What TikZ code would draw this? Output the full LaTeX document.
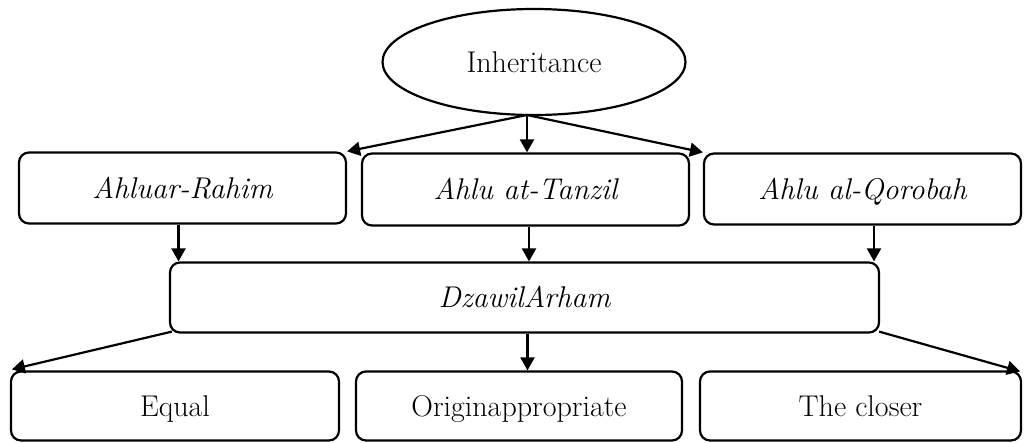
\documentclass[tikz,border=0pt]{standalone}
\usetikzlibrary{shapes.geometric,arrows.meta,calc}
\begin{document}
\begin{tikzpicture}[x=1pt,y=-1pt,
  line width=2.2pt,
  txt/.style={font=\fontsize{30}{36}\selectfont, text height=20pt, text depth=0pt},
  itxt/.style={font=\fontsize{30}{36}\selectfont\itshape, text height=20pt, text depth=0pt},
  rbox/.style={draw, rounded corners=10pt, inner sep=0pt, anchor=center},
  conn/.style={-{Triangle[length=13pt,width=14pt]}}
]
\useasboundingbox (0,0) rectangle (1027,442);

% root ellipse
\node[draw, ellipse, txt, minimum width=303, minimum height=106, inner sep=0pt] (root) at (534,62) {Inheritance};
\coordinate (fork) at (527,115);

% first level
\node[rbox, itxt, minimum width=327, minimum height=71] (l1a) at (182.5,188) {Ahluar-Rahim};
\node[rbox, itxt, minimum width=327, minimum height=72] (l1b) at (525.5,189.5) {Ahlu at-Tanzil};
\node[rbox, itxt, minimum width=317, minimum height=71] (l1c) at (862.5,189) {Ahlu al-Qorobah};

% middle node
\node[rbox, itxt, minimum width=709, minimum height=70] (mid) at (524.5,297.5) {DzawilArham};

% last level
\node[rbox, txt, minimum width=328, minimum height=69] (l3a) at (175,406) {Equal};
\node[rbox, txt, minimum width=326, minimum height=69] (l3b) at (519,406) {Originappropriate};
\node[rbox, txt, minimum width=321, minimum height=69] (l3c) at (860.5,406) {The closer};

% connectors from the root
\draw[conn] (fork) -- (l1a.north east);
\draw[conn] (fork) -- (fork |- l1b.north);
\draw[conn] (fork) -- (l1c.north west);

% connectors into the middle node
\draw[conn] ([xshift=-4]l1a.south) -- ([xshift=-4]l1a.south |- mid.north);
\draw[conn] ([xshift=3.5]l1b.south) -- ([xshift=3.5]l1b.south |- mid.north);
\draw[conn] ([xshift=11.5]l1c.south) -- ([xshift=11.5]l1c.south |- mid.north);

% connectors to the last level
\draw[conn] ([shift={(3,-2)}]mid.south west) -- ([shift={(2,-1)}]l3a.north west);
\draw[conn] ([xshift=3]mid.south) -- ([xshift=3]mid.south |- l3b.north);
\draw[conn] ([shift={(-1,-2)}]mid.south east) -- ([shift={(-2,1)}]l3c.north east);
\end{tikzpicture}
\end{document}
